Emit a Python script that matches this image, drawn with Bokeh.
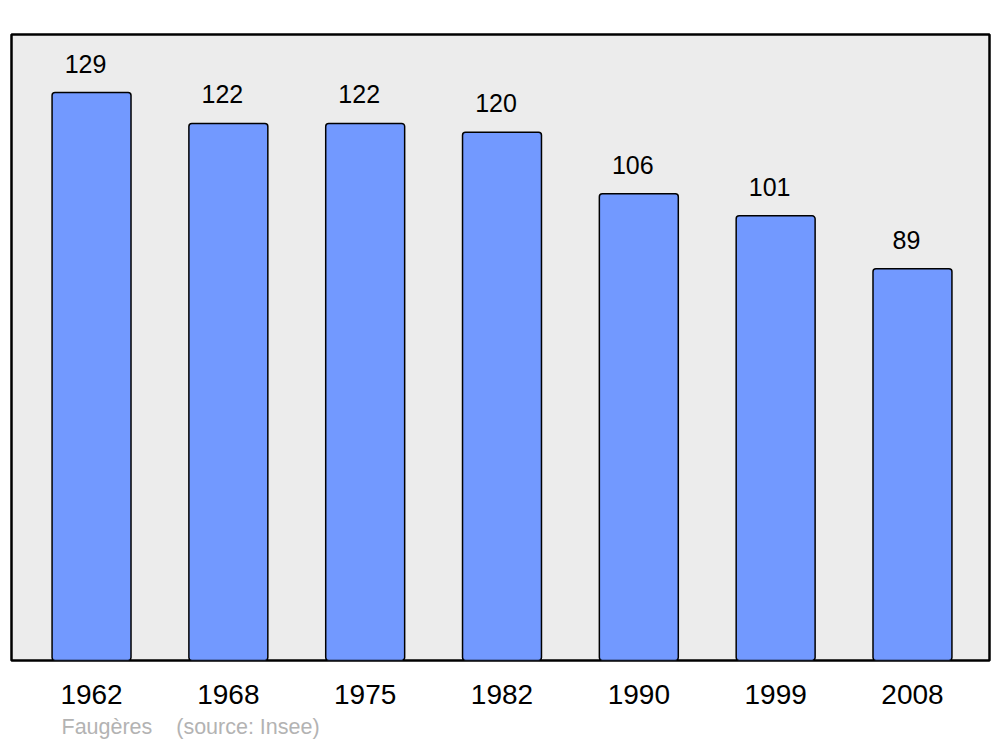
from bokeh.plotting import figure
from bokeh.models import Range1d, FixedTicker, Title, ColumnDataSource
from bokeh.core.properties import value
from bokeh.embed import file_html
from bokeh.resources import INLINE

years = ["1962", "1968", "1975", "1982", "1990", "1999", "2008"]
population = [129, 122, 122, 120, 106, 101, 89]
source_text = "Faugères\u00a0\u00a0\u00a0\u00a0(source: Insee)"

xs = list(range(len(years)))
src = ColumnDataSource(dict(x=xs, top=population, label=[str(v) for v in population]))

FONT = "Liberation Sans"

p = figure(width=1000, height=747, output_backend="svg", toolbar_location=None,
           x_range=Range1d(-0.585, 6.563), y_range=Range1d(0, 142.2),
           min_border_left=11, min_border_right=11, min_border_top=34, min_border_bottom=87,
           background_fill_color="#ececec", border_fill_color="white")

p.vbar(x="x", top="top", width=0.577, bottom=0, source=src,
       fill_color="#7299ff", line_color="black", line_width=1.5,
       border_radius=3)

p.text(x="x", y="top", text="label", source=src, y_offset=-29, x_offset=-6,
       text_align="center", text_baseline="alphabetic",
       text_font=value(FONT), text_font_size="25px", text_color="black")

p.yaxis.visible = False
p.grid.visible = False
p.outline_line_color = "black"
p.outline_line_width = 2.5

ax = p.xaxis[0]
ax.ticker = FixedTicker(ticks=xs)
ax.major_label_overrides = {i: y for i, y in enumerate(years)}
ax.axis_line_color = None
ax.major_tick_line_color = None
ax.minor_tick_line_color = None
ax.major_tick_out = 0
ax.major_label_standoff = 24
ax.major_label_text_font = FONT
ax.major_label_text_font_size = "28px"
ax.major_label_text_color = "black"

t = Title(text=source_text, align="left", offset=50, text_font=FONT,
          text_font_size="21.5px", text_font_style="normal", text_color="#b3b3b3",
          standoff=13)
p.add_layout(t, "below")

open("out.html", "w").write(file_html(p, INLINE))
